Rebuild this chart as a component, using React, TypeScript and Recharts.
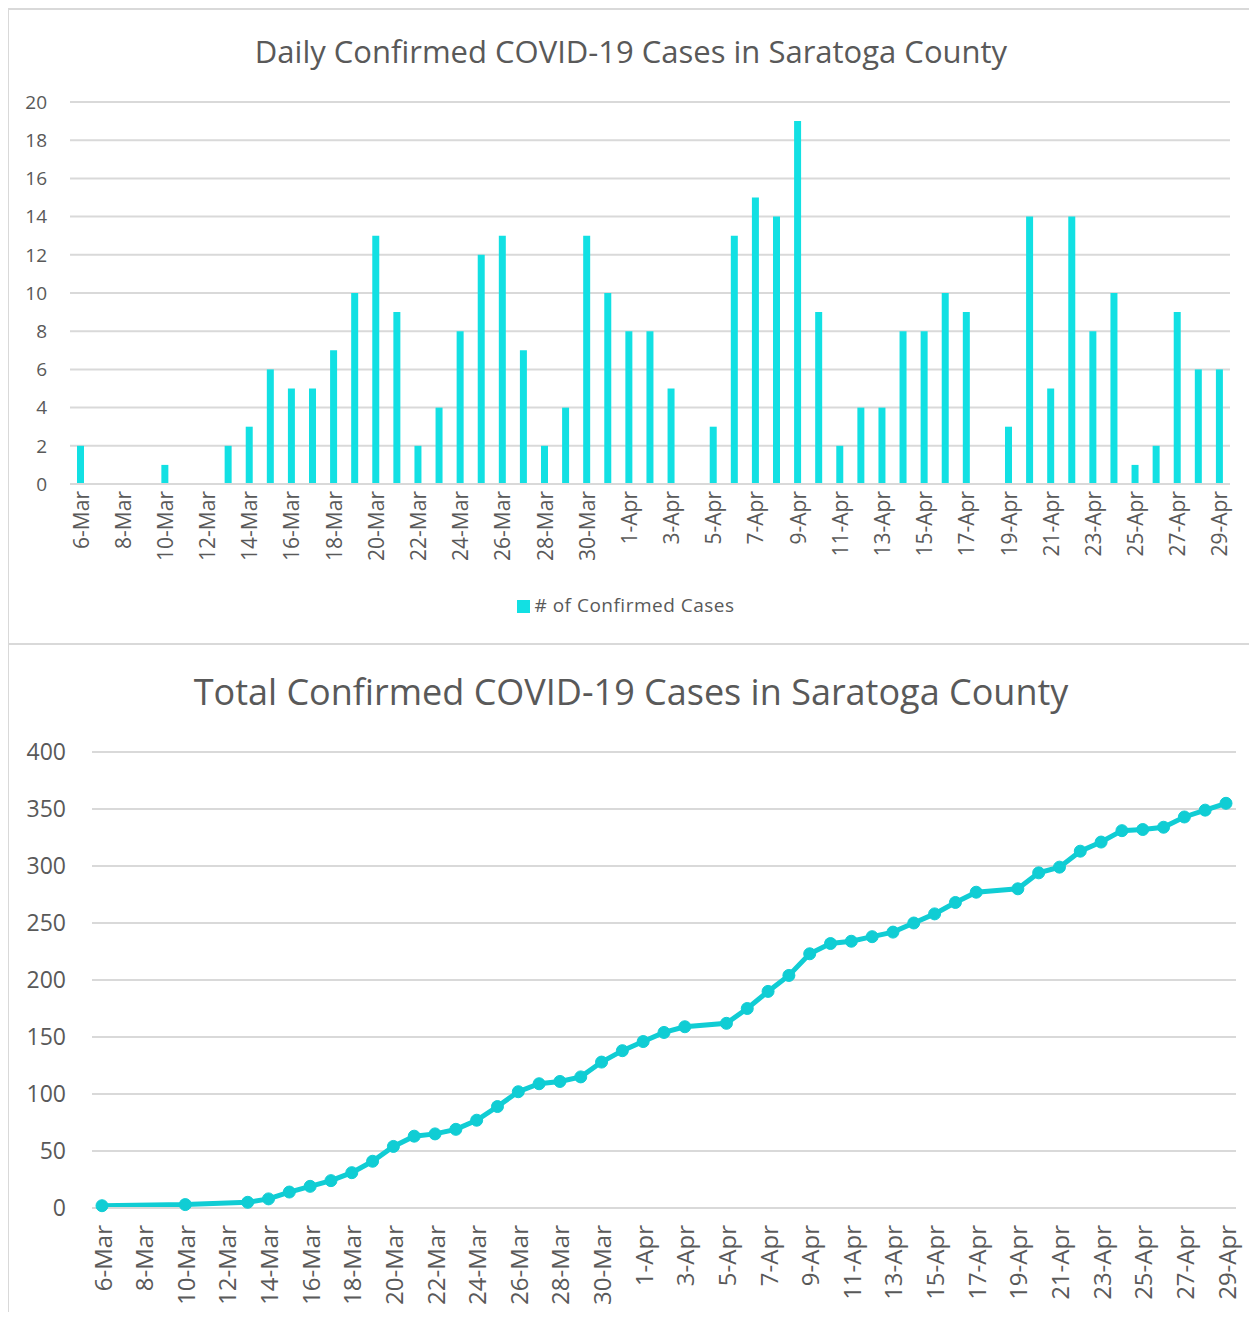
import { BarChart, Bar, LineChart, Line, XAxis, YAxis, CartesianGrid, Legend } from 'recharts'

const dates = [
  '6-Mar', '7-Mar', '8-Mar', '9-Mar', '10-Mar', '11-Mar', '12-Mar', '13-Mar', '14-Mar', '15-Mar',
  '16-Mar', '17-Mar', '18-Mar', '19-Mar', '20-Mar', '21-Mar', '22-Mar', '23-Mar', '24-Mar', '25-Mar',
  '26-Mar', '27-Mar', '28-Mar', '29-Mar', '30-Mar', '31-Mar',
  '1-Apr', '2-Apr', '3-Apr', '4-Apr', '5-Apr', '6-Apr', '7-Apr', '8-Apr', '9-Apr', '10-Apr',
  '11-Apr', '12-Apr', '13-Apr', '14-Apr', '15-Apr', '16-Apr', '17-Apr', '18-Apr', '19-Apr', '20-Apr',
  '21-Apr', '22-Apr', '23-Apr', '24-Apr', '25-Apr', '26-Apr', '27-Apr', '28-Apr', '29-Apr',
]

const dailyCases = [
  2, 0, 0, 0, 1, 0, 0, 2, 3, 6,
  5, 5, 7, 10, 13, 9, 2, 4, 8, 12,
  13, 7, 2, 4, 13, 10,
  8, 8, 5, 0, 3, 13, 15, 14, 19, 9,
  2, 4, 4, 8, 8, 10, 9, 0, 3, 14,
  5, 14, 8, 10, 1, 2, 9, 6, 6,
]

// days without a report have no point on the total line
const totalCases = [
  2, null, null, null, 3, null, null, 5, 8, 14,
  19, 24, 31, 41, 54, 63, 65, 69, 77, 89,
  102, 109, 111, 115, 128, 138,
  146, 154, 159, null, 162, 175, 190, 204, 223, 232,
  234, 238, 242, 250, 258, 268, 277, null, 280, 294,
  299, 313, 321, 331, 332, 334, 343, 349, 355,
]

const dailyTicks = [0, 2, 4, 6, 8, 10, 12, 14, 16, 18, 20]
const totalTicks = [0, 50, 100, 150, 200, 250, 300, 350, 400]

const dailyData = dates.map((d, i) => ({ date: d, cases: dailyCases[i] }))
const totalData = dates.map((d, i) => ({ date: d, total: totalCases[i] }))

const FONT = '"Open Sans", sans-serif'
const TEXT = '#595959'
const GRID = '#d9d9d9'

function RotatedTick({ x, y, payload, fontSize, shift = 0 }: any) {
  const ty = y + shift
  return (
    <text
      x={x}
      y={ty}
      transform={`rotate(-90, ${x}, ${ty})`}
      textAnchor="end"
      dominantBaseline="central"
      fill={TEXT}
      fontSize={fontSize}
      fontFamily={FONT}
    >
      {payload.value}
    </text>
  )
}

const boxStyle: React.CSSProperties = {
  position: 'absolute',
  left: 7,
  width: 1248,
  border: `2px solid ${GRID}`,
  background: '#fff',
  boxSizing: 'border-box',
}

export default function App() {
  return (
    <div style={{ position: 'relative', width: 1257, height: 1320, margin: -8, overflow: 'hidden', background: '#fff', fontFamily: FONT }}>
      {/* daily chart */}
      <div style={{ ...boxStyle, top: 8, height: 637 }}>
        <div style={{ position: 'absolute', top: 20, left: 0, width: '100%', textAlign: 'center', fontSize: 31, color: TEXT }}>
          Daily Confirmed COVID-19 Cases in Saratoga County
        </div>
        <div style={{ position: 'absolute', top: 0, left: 0 }}>
          <BarChart width={1244} height={633} data={dailyData} margin={{ top: 92, right: 23, left: 11, bottom: 69 }}>
            <CartesianGrid vertical={false} stroke={GRID} strokeWidth={2} />
            <XAxis
              dataKey="date"
              interval={1}
              tickLine={false}
              axisLine={{ stroke: GRID, strokeWidth: 2 }}
              height={90}
              tick={<RotatedTick fontSize={21} shift={-1} />}
            />
            <YAxis
              domain={[0, 20]}
              ticks={dailyTicks}
              axisLine={false}
              tickLine={false}
              width={50}
              tickMargin={17}
              tick={{ fill: TEXT, fontSize: 19, fontFamily: FONT }}
            />
            <Legend
              verticalAlign="middle"
              align="center"
              iconType="square"
              iconSize={13}
              wrapperStyle={{ top: 582, left: 0, width: 1244, fontSize: 19, letterSpacing: 0.5, fontFamily: FONT }}
              formatter={(v) => <span style={{ color: TEXT }}>{v}</span>}
            />
            <Bar dataKey="cases" name="# of Confirmed Cases" fill="#12e0e3" barSize={7} isAnimationActive={false} />
          </BarChart>
        </div>
      </div>

      {/* total chart */}
      <div style={{ ...boxStyle, top: 643, height: 700 }}>
        <div style={{ position: 'absolute', top: 22, left: 0, width: '100%', textAlign: 'center', fontSize: 36, color: TEXT }}>
          Total Confirmed COVID-19 Cases in Saratoga County
        </div>
        <div style={{ position: 'absolute', top: 0, left: 0 }}>
          <LineChart width={1244} height={690} data={totalData} margin={{ top: 107, right: 17, left: 13, bottom: 27 }}>
            <CartesianGrid vertical={false} stroke={GRID} strokeWidth={2} />
            <XAxis
              dataKey="date"
              interval={1}
              tickLine={false}
              axisLine={{ stroke: GRID, strokeWidth: 2 }}
              height={100}
              padding={{ left: 10, right: 10 }}
              tick={<RotatedTick fontSize={24} shift={9} />}
            />
            <YAxis
              domain={[0, 400]}
              ticks={totalTicks}
              axisLine={false}
              tickLine={false}
              width={70}
              tickMargin={20}
              tick={{ fill: TEXT, fontSize: 23, fontFamily: FONT }}
            />
            <Line
              dataKey="total"
              stroke="#10cdd4"
              strokeWidth={5}
              connectNulls
              dot={{ r: 6, fill: '#10cdd4', stroke: '#10cdd4', strokeWidth: 1 }}
              isAnimationActive={false}
            />
          </LineChart>
        </div>
      </div>
    </div>
  )
}
